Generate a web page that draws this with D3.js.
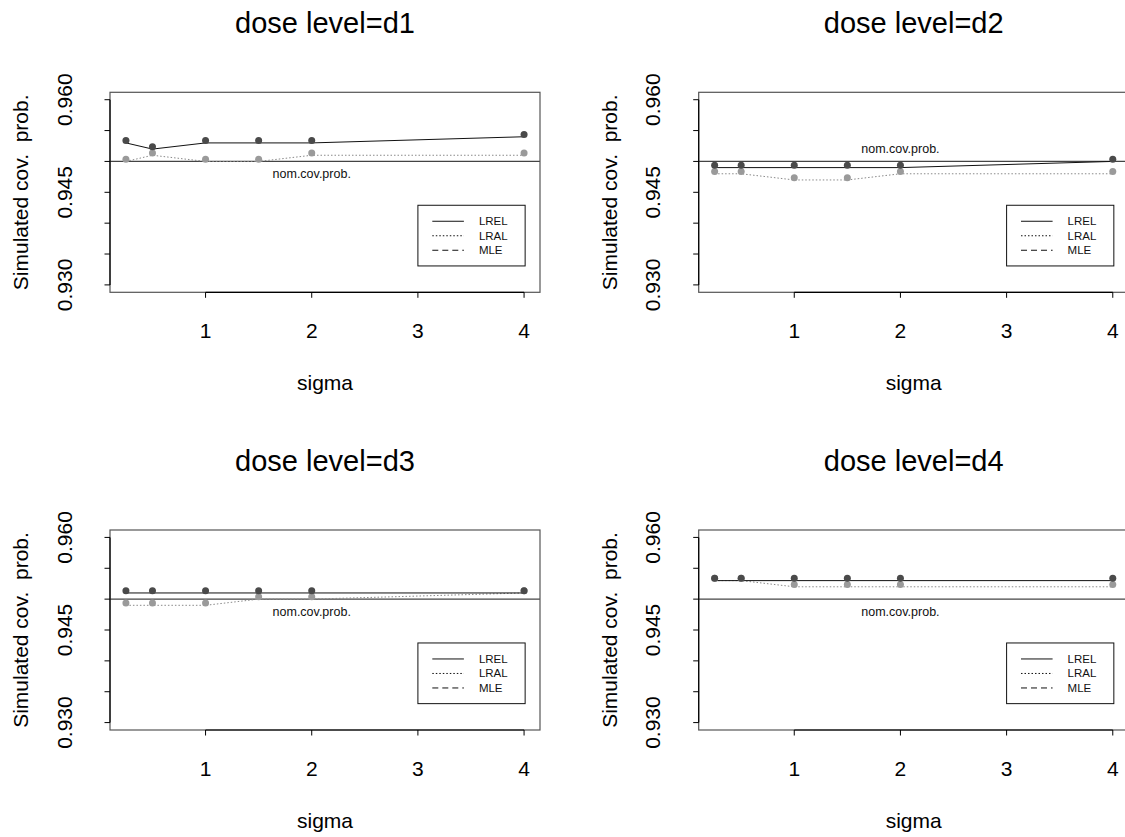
<!DOCTYPE html>
<html>
<head>
<meta charset="utf-8">
<script src="https://cdn.jsdelivr.net/npm/d3@7"></script>
<style>
  html, body { margin: 0; padding: 0; background: #fff; }
  svg { display: block; font-family: "Liberation Sans", Arial, Helvetica, sans-serif; }
</style>
</head>
<body>
<svg id="chart" width="1125" height="837"></svg>
<script>
// ---- data ----
const sigma = [0.25, 0.5, 1, 1.5, 2, 4];
const panelTitles = ["dose level=d1", "dose level=d2", "dose level=d3", "dose level=d4"];
const lrelD1 = [0.953, 0.952, 0.953, 0.953, 0.953, 0.954];
const lralD1 = [0.950, 0.951, 0.950, 0.950, 0.951, 0.951];
const lrelD2 = [0.949, 0.949, 0.949, 0.949, 0.949, 0.950];
const lralD2 = [0.948, 0.948, 0.947, 0.947, 0.948, 0.948];
const lrelD3 = [0.951, 0.951, 0.951, 0.951, 0.951, 0.951];
const lralD3 = [0.949, 0.949, 0.949, 0.950, 0.950, 0.951];
const lrelD4 = [0.953, 0.953, 0.953, 0.953, 0.953, 0.953];
const lralD4 = [0.953, 0.953, 0.952, 0.952, 0.952, 0.952];
const nominal = 0.95;
const nomLabelY = [0.948, 0.952, 0.948, 0.948];
const nomLabel = "nom.cov.prob.";
const xTicks = [1, 2, 3, 4];
const yTicks = [0.930, 0.935, 0.940, 0.945, 0.950, 0.955, 0.960];
const yTickLabels = [0.930, 0.945, 0.960];
const legendLabels = ["LREL", "LRAL", "MLE"];
const legendDash = [null, "1.5,2", "6,4"];
const xLabel = "sigma";
const yLabel = "Simulated cov.  prob.";

const lrel = [lrelD1, lrelD2, lrelD3, lrelD4];
const lral = [lralD1, lralD2, lralD3, lralD4];

// ---- layout ----
const W = 430, H = 200;
const origins = [[110, 92.3], [698.7, 92.3], [110, 530], [698.7, 530]];
const x = d3.scaleLinear().domain([0.1, 4.15]).range([0, W]);
const y = d3.scaleLinear().domain([0.9288, 0.9612]).range([H, 0]);

const svg = d3.select("#chart");
const darkPt = "#4a4a4a", lightPt = "#9a9a9a";

origins.forEach((o, i) => {
  const g = svg.append("g").attr("transform", `translate(${o[0]},${o[1]})`);

  // title
  g.append("text").attr("x", W / 2).attr("y", -59)
    .attr("text-anchor", "middle").attr("font-size", 29).attr("fill", "#000")
    .text(panelTitles[i]);

  // nominal line
  g.append("line").attr("x1", 0).attr("x2", W)
    .attr("y1", y(nominal)).attr("y2", y(nominal))
    .attr("stroke", "#444").attr("stroke-width", 1.3);

  // lines
  const line = d3.line().x((d, j) => x(sigma[j])).y(d => y(d));
  g.append("path").datum(lral[i]).attr("d", line)
    .attr("fill", "none").attr("stroke", "#8a8a8a").attr("stroke-width", 1)
    .attr("stroke-dasharray", "1.5,2");
  g.append("path").datum(lrel[i]).attr("d", line)
    .attr("fill", "none").attr("stroke", "#111").attr("stroke-width", 1);

  // points (rendered slightly above the line as in the reference)
  const pg = g.append("g").attr("transform", "translate(0,-2.3)");
  pg.selectAll(".pl").data(lral[i]).enter().append("circle")
    .attr("cx", (d, j) => x(sigma[j])).attr("cy", d => y(d))
    .attr("r", 3.5).attr("fill", lightPt);
  pg.selectAll(".pd").data(lrel[i]).enter().append("circle")
    .attr("cx", (d, j) => x(sigma[j])).attr("cy", d => y(d))
    .attr("r", 3.5).attr("fill", darkPt);

  // nominal label
  g.append("text").attr("x", x(2)).attr("y", y(nomLabelY[i]))
    .attr("dy", "0.35em").attr("text-anchor", "middle")
    .attr("font-size", 12.5).attr("fill", "#111").text(nomLabel);

  // box
  g.append("rect").attr("x", 0).attr("y", 0).attr("width", W).attr("height", H)
    .attr("fill", "none").attr("stroke", "#555").attr("stroke-width", 1.2);

  // x axis
  const xa = g.append("g").attr("transform", `translate(0,${H})`);
  xa.append("line").attr("x1", x(xTicks[0])).attr("x2", x(xTicks[xTicks.length - 1]))
    .attr("stroke", "#000").attr("stroke-width", 1.2);
  xa.selectAll(".xt").data(xTicks).enter().append("line")
    .attr("x1", d => x(d)).attr("x2", d => x(d)).attr("y1", 0).attr("y2", 5.5)
    .attr("stroke", "#000").attr("stroke-width", 1);
  xa.selectAll(".xl").data(xTicks).enter().append("text")
    .attr("x", d => x(d)).attr("y", 46).attr("text-anchor", "middle")
    .attr("font-size", 21).attr("fill", "#000").text(d => d);
  g.append("text").attr("x", W / 2).attr("y", H + 98).attr("text-anchor", "middle")
    .attr("font-size", 21).attr("fill", "#000").text(xLabel);

  // y axis
  const ya = g.append("g");
  ya.append("line").attr("y1", y(yTicks[0])).attr("y2", y(yTicks[yTicks.length - 1]))
    .attr("stroke", "#000").attr("stroke-width", 1.2);
  ya.selectAll(".yt").data(yTicks).enter().append("line")
    .attr("x1", -5.5).attr("x2", 0).attr("y1", d => y(d)).attr("y2", d => y(d))
    .attr("stroke", "#000").attr("stroke-width", 1);
  ya.selectAll(".yl").data(yTickLabels).enter().append("text")
    .attr("transform", d => `translate(-38.3,${y(d)}) rotate(-90)`)
    .attr("text-anchor", "middle").attr("font-size", 21).attr("fill", "#000")
    .text(d => d3.format(".3f")(d));
  g.append("text")
    .attr("transform", `translate(-81.7,${H / 2}) rotate(-90)`)
    .attr("text-anchor", "middle").attr("font-size", 21).attr("fill", "#000")
    .style("white-space", "pre").attr("xml:space", "preserve")
    .text(yLabel);

  // legend
  const lx0 = x(3), lx1 = x(4.01), ly0 = y(0.9429), ly1 = y(0.93307);
  const lg = g.append("g");
  lg.append("rect").attr("x", lx0).attr("y", ly0).attr("width", lx1 - lx0).attr("height", ly1 - ly0)
    .attr("fill", "#fff").attr("stroke", "#111").attr("stroke-width", 1);
  legendLabels.forEach((lab, k) => {
    const yy = ly0 + 16 + k * 14.5;
    lg.append("line").attr("x1", lx0 + 14.4).attr("x2", lx0 + 46)
      .attr("y1", yy).attr("y2", yy).attr("stroke", "#111").attr("stroke-width", 1)
      .attr("stroke-dasharray", legendDash[k]);
    lg.append("text").attr("x", lx0 + 61).attr("y", yy).attr("dy", "0.35em")
      .attr("font-size", 11.5).attr("fill", "#111").text(lab);
  });
});
</script>
</body>
</html>
